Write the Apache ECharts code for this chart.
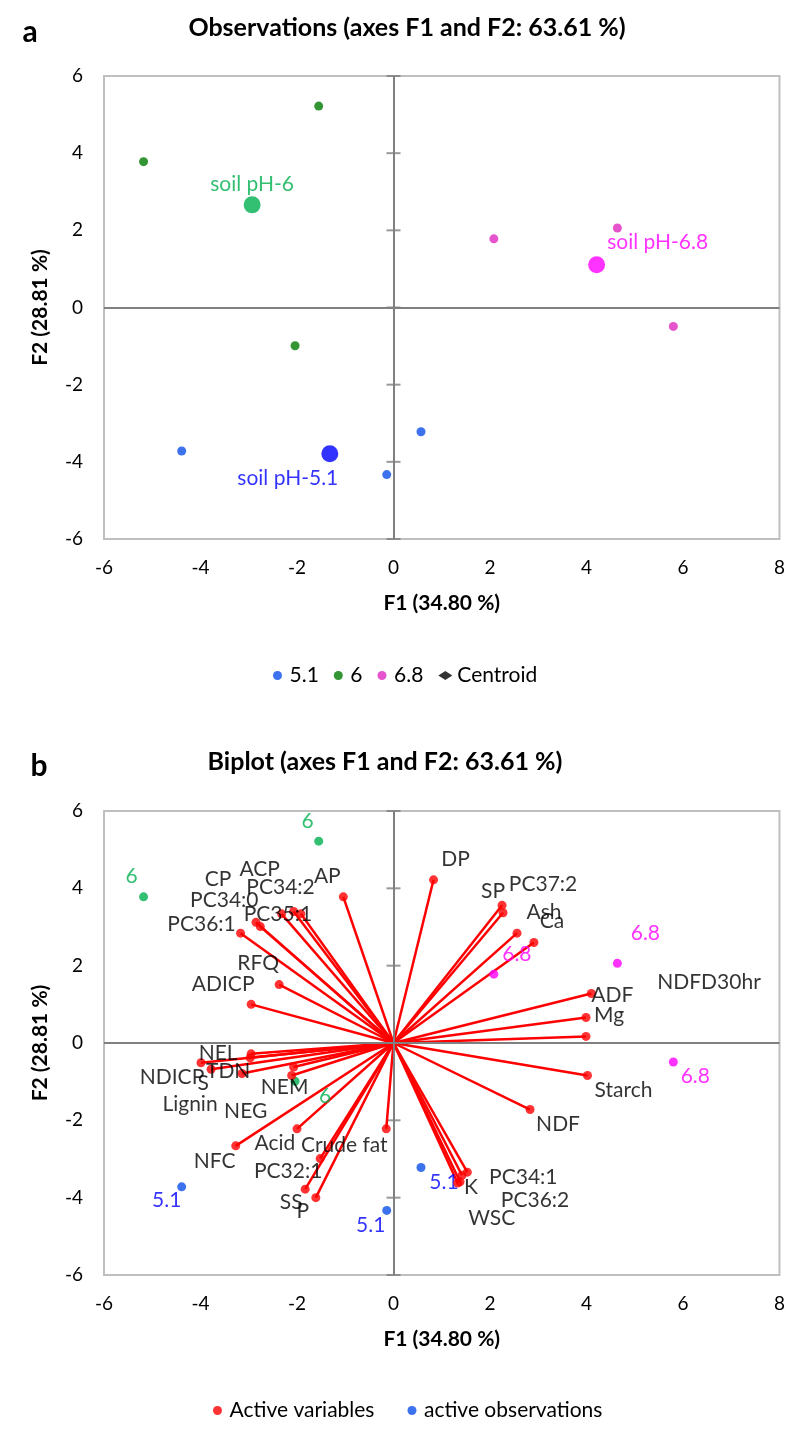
<!DOCTYPE html>
<html>
<head>
<meta charset="utf-8">
<script src="https://cdn.jsdelivr.net/npm/echarts@6/dist/echarts.min.js"></script>
<style>
html,body{margin:0;padding:0;background:#fff;}
#c{width:788px;height:1435px;}
</style>
</head>
<body>
<div id="c"></div>
<script>
// ---------- DATA ----------
const xTicks = [-6, -4, -2, 0, 2, 4, 6, 8];
const yTicks = [-6, -4, -2, 0, 2, 4, 6];
const titleA = 'Observations (axes F1 and F2: 63.61 %)';
const titleB = 'Biplot (axes F1 and F2: 63.61 %)';
const xName = 'F1 (34.80 %)';
const yName = 'F2 (28.81 %)';

const obsGroups = ['5.1', '6', '6.8'];
const obs51F1 = [-4.39, 0.57, -0.14];
const obs51F2 = [-3.72, -3.22, -4.33];
const obs6F1 = [-5.18, -1.55, -2.04];
const obs6F2 = [3.78, 5.22, -0.99];
const obs68F1 = [2.08, 4.64, 5.80];
const obs68F2 = [1.78, 2.06, -0.49];

const centroidNames = ['soil pH-5.1', 'soil pH-6', 'soil pH-6.8'];
const centroidF1 = [-1.32, -2.93, 4.21];
const centroidF2 = [-3.79, 2.66, 1.11];

const varNames = ['AP','CP','ACP','PC34:2','PC34:0','PC35:1','PC36:1','RFQ','ADICP',
  'DP','SP','PC37:2','Ash','Ca','ADF','Mg','NDFD30hr','Starch','NDF',
  'PC34:1','K','PC36:2','WSC','NEL','TDN','NDICP','S','Lignin','NEM','NEG',
  'Acid','Crude fat','NFC','PC32:1','SS','P'];
const varF1 = [-1.04,-2.85,-2.07,-2.32,-2.76,-1.92,-3.17,-2.37,-2.95,
  0.83,2.25,2.27,2.56,2.91,4.10,3.99,3.99,4.02,2.83,
  1.53,1.42,1.38,1.33,-2.95,-2.97,-3.99,-3.78,-3.14,-2.07,-2.11,
  -2.00,-0.15,-3.27,-1.52,-1.83,-1.61];
const varF2 = [3.78,3.12,3.40,3.34,3.01,3.34,2.84,1.51,1.00,
  4.22,3.56,3.37,2.84,2.60,1.28,0.66,0.17,-0.84,-1.72,
  -3.34,-3.42,-3.59,-3.62,-0.28,-0.38,-0.51,-0.68,-0.79,-0.62,-0.84,
  -2.22,-2.22,-2.66,-2.99,-3.78,-4.00];

// ---------- LAYOUT / STYLE (label offsets in px) ----------
const varLabelOffset = {
  'AP':[-16,-21],'CP':[-38,-43],'ACP':[-34,-42],'PC34:2':[-1,-27],'PC34:0':[-36,-26],
  'PC35:1':[-23,0],'PC36:1':[-39,-9],'RFQ':[-21,-21],'ADICP':[-28,-20],
  'DP':[22,-21],'SP':[-9,-14],'PC37:2':[40,-28],'Ash':[27,-21],'Ca':[18,-21],
  'ADF':[21,2],'Mg':[23,-2],'NDFD30hr':[123,-54],'Starch':[36,15],'NDF':[28,15],
  'PC34:1':[56,5],'K':[9,12],'PC36:2':[75,18],'WSC':[34,35],
  'NEL':[-33,-1],'TDN':[-22,14],'NDICP':[-29,15],'S':[-8,14],'Lignin':[-52,31],
  'NEM':[-9,20],'NEG':[-46,36],'Acid':[-22,14],'Crude fat':[-42,16],'NFC':[-21,15],
  'PC32:1':[-32,13],'SS':[-14,13],'P':[-13,14]
};
const obsLabelOffsetB = {
  '5.1':[[-15,13],[23,15],[-16,15]],
  '6':[[-12,-21],[-11,-20],[30,15]],
  '6.8':[[23,-20],[28,-30],[22,14]]
};
const centroidLabelOffset = [[-42,25],[0,-21],[61,-22]];

const FONT = 'Lato';
const colA = {'5.1':'#0B4FEA','6':'#007A00','6.8':'#DE29BF'};
const colCentroid = ['#0000FF','#00B050','#FF00FF'];
const colB = {'5.1':'#0B4FEA','6':'#00B050','6.8':'#FF00FF'};
const labColB = {'5.1':'#0000FF','6':'#00B050','6.8':'#FF00FF'};

const obsF1 = {'5.1':obs51F1,'6':obs6F1,'6.8':obs68F1};
const obsF2 = {'5.1':obs51F2,'6':obs6F2,'6.8':obs68F2};

function axisPair(gi) {
  return {
    x: {
      gridIndex: gi, type: 'value', min: xTicks[0], max: xTicks[xTicks.length-1], interval: 2,
      axisLine: {show: false, onZero: false}, axisTick: {show: false}, splitLine: {show: false},
      axisLabel: {fontFamily: FONT, fontSize: 19, color: '#000', margin: 19},
      name: xName, nameLocation: 'middle', nameGap: 54,
      nameTextStyle: {fontFamily: FONT, fontWeight: 'bold', fontSize: 21, color: '#000'}
    },
    y: {
      gridIndex: gi, type: 'value', min: yTicks[0], max: yTicks[yTicks.length-1], interval: 2,
      axisLine: {show: false, onZero: false}, axisTick: {show: false}, splitLine: {show: false},
      axisLabel: {fontFamily: FONT, fontSize: 19, color: '#000', margin: 21},
      name: yName, nameLocation: 'middle', nameGap: 53, nameRotate: 90,
      nameTextStyle: {fontFamily: FONT, fontWeight: 'bold', fontSize: 21, color: '#000'}
    }
  };
}
const axA = axisPair(0), axB = axisPair(1);

function zeroAxesSeries(gi) {
  return {
    type: 'scatter', xAxisIndex: gi, yAxisIndex: gi, silent: true, z: 1,
    symbol: 'rect', symbolSize: [14, 2], itemStyle: {color: '#808080'},
    data: yTicks.map(v => [0, v]),
    markLine: {
      silent: true, symbol: ['none','none'], label: {show: false},
      lineStyle: {color: '#808080', width: 2, type: 'solid'},
      data: [{xAxis: 0}, {yAxis: 0}]
    }
  };
}

const series = [];
// ----- chart a -----
series.push(zeroAxesSeries(0));
obsGroups.forEach(g => {
  series.push({
    name: g, type: 'scatter', xAxisIndex: 0, yAxisIndex: 0, z: 3,
    symbol: 'circle', symbolSize: 9, itemStyle: {color: colA[g]},
    data: obsF1[g].map((v, i) => [v, obsF2[g][i]])
  });
});
series.push({
  name: 'Centroid', type: 'scatter', xAxisIndex: 0, yAxisIndex: 0, z: 4,
  symbol: 'circle', symbolSize: 17, itemStyle: {color: '#000'},
  data: centroidNames.map((n, i) => ({
    value: [centroidF1[i], centroidF2[i]],
    itemStyle: {color: colCentroid[i]},
    label: {
      show: true, formatter: n, position: ['50%','50%'], offset: centroidLabelOffset[i],
      align: 'center', verticalAlign: 'middle',
      fontFamily: FONT, fontSize: 21, color: colCentroid[i]
    }
  }))
});

// ----- chart b -----
series.push(zeroAxesSeries(1));
series.push({
  name: 'varLines', type: 'lines', coordinateSystem: 'cartesian2d', xAxisIndex: 1, yAxisIndex: 1,
  z: 2, silent: true, symbol: ['none','none'],
  lineStyle: {color: '#FF0000', width: 2.5, opacity: 1, curveness: 0},
  data: varNames.map((n, i) => ({coords: [[0, 0], [varF1[i], varF2[i]]]}))
});
series.push({
  name: 'Active variables', type: 'scatter', xAxisIndex: 1, yAxisIndex: 1, z: 4,
  symbol: 'circle', symbolSize: 9, itemStyle: {color: '#FF0000'},
  data: varNames.map((n, i) => ({
    value: [varF1[i], varF2[i]],
    label: {
      show: true, formatter: n, position: ['50%','50%'], offset: varLabelOffset[n],
      align: 'center', verticalAlign: 'middle',
      fontFamily: FONT, fontSize: 21, color: '#000'
    }
  }))
});
const obsBData = [];
obsGroups.forEach(g => {
  obsF1[g].forEach((v, i) => {
    obsBData.push({
      value: [v, obsF2[g][i]],
      itemStyle: {color: colB[g]},
      label: {
        show: true, formatter: g, position: ['50%','50%'], offset: obsLabelOffsetB[g][i],
        align: 'center', verticalAlign: 'middle',
        fontFamily: FONT, fontSize: 21, color: labColB[g]
      }
    });
  });
});
series.push({
  name: 'active observations', type: 'scatter', xAxisIndex: 1, yAxisIndex: 1, z: 3,
  symbol: 'circle', symbolSize: 9, itemStyle: {color: '#0B4FEA'},
  data: obsBData
});

const chart = echarts.init(document.getElementById('c'), null, {renderer: 'canvas'});
chart.setOption({
  animation: false,
  backgroundColor: '#fff',
  graphic: [
    {type: 'text', x: 30, y: 32, style: {text: 'a', font: 'bold 30px Lato', fill: '#000', align: 'center', verticalAlign: 'middle', textAlign: 'center', textVerticalAlign: 'middle'}},
    {type: 'text', x: 407, y: 28, style: {text: titleA, font: 'bold 25px Lato', fill: '#000', align: 'center', verticalAlign: 'middle', textAlign: 'center', textVerticalAlign: 'middle'}},
    {type: 'text', x: 39, y: 766, style: {text: 'b', font: 'bold 30px Lato', fill: '#000', align: 'center', verticalAlign: 'middle', textAlign: 'center', textVerticalAlign: 'middle'}},
    {type: 'text', x: 385, y: 762, style: {text: titleB, font: 'bold 25px Lato', fill: '#000', align: 'center', verticalAlign: 'middle', textAlign: 'center', textVerticalAlign: 'middle'}}
  ],
  grid: [
    {left: 104, top: 76, width: 679, height: 463, show: true, borderColor: '#BFBFBF', borderWidth: 2, backgroundColor: 'transparent'},
    {left: 104, top: 811, width: 679, height: 464, show: true, borderColor: '#BFBFBF', borderWidth: 2, backgroundColor: 'transparent'}
  ],
  xAxis: [axA.x, axB.x],
  yAxis: [axA.y, axB.y],
  legend: [
    {
      left: 273, top: 665, padding: 0, itemGap: 15, itemWidth: 14, itemHeight: 9,
      textStyle: {fontFamily: FONT, fontSize: 21, color: '#000'},
      selectedMode: false,
      data: [
        {name: '5.1', icon: 'circle'}, {name: '6', icon: 'circle'},
        {name: '6.8', icon: 'circle'}, {name: 'Centroid', icon: 'diamond'}
      ]
    },
    {
      left: 213, top: 1400, padding: 0, itemGap: 33, itemWidth: 14, itemHeight: 9,
      textStyle: {fontFamily: FONT, fontSize: 21, color: '#000'},
      selectedMode: false,
      data: [{name: 'Active variables', icon: 'circle'}, {name: 'active observations', icon: 'circle'}]
    }
  ],
  series: series
});
</script>
</body>
</html>
